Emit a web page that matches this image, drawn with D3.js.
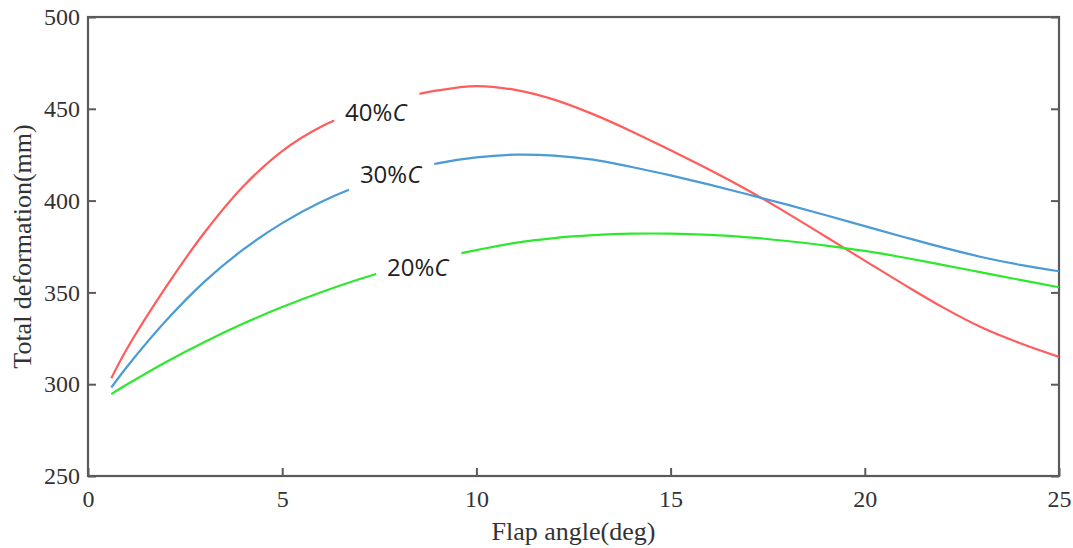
<!DOCTYPE html>
<html>
<head>
<meta charset="utf-8">
<script src="https://cdn.jsdelivr.net/npm/d3@7"></script>
<style>
  html, body { margin: 0; padding: 0; background: #fff; }
  svg { display: block; }
</style>
</head>
<body>
<svg id="chart" width="1073" height="548"></svg>
<script>
// Flap angle samples (deg)
const angles = [0.6, 1, 2, 3, 4, 5, 6, 7, 8, 9, 10, 11, 12, 13, 14, 15, 16, 17, 18, 19, 20, 21, 22, 23, 24, 25];

// Total deformation (mm) for each flap chord ratio
const def40 = [303.3, 319.2, 352.7, 382.6, 407.8, 427.0, 440.2, 449.0, 455.4, 460.0, 462.4, 460.3, 455.0, 447.1, 437.7, 427.4, 416.8, 405.5, 393.2, 380.3, 367.3, 354.4, 342.0, 331.0, 322.3, 314.9];
const def30 = [298.2, 309.4, 334.4, 355.9, 373.4, 387.7, 399.2, 408.2, 415.5, 420.3, 423.5, 425.0, 424.5, 422.3, 418.3, 413.7, 408.7, 403.3, 397.8, 392.0, 386.1, 380.2, 374.5, 369.3, 365.0, 361.5];
const def20 = [294.6, 299.8, 312.0, 323.0, 333.0, 342.0, 350.1, 357.3, 363.5, 368.7, 373.0, 377.0, 379.6, 381.2, 382.0, 382.0, 381.3, 380.0, 378.0, 375.5, 372.6, 369.0, 365.0, 360.9, 356.8, 352.8];

const seriesNames = ["40%", "30%", "20%"];
// inline label anchors (angle, deformation) for each curve
const labelAngles = [6.62, 7.0, 7.7];
const labelValues = [443.2, 409.4, 359.2];

const xTicks = [0, 5, 10, 15, 20, 25];
const yTicks = [250, 300, 350, 400, 450, 500];

const colors = ["#ff5c5c", "#4a9bd6", "#2ee82e"];

const svg = d3.select("#chart");
const x = d3.scaleLinear().domain([0, 25]).range([88, 1059]);
const y = d3.scaleLinear().domain([250, 500]).range([476, 17]);

const axisColor = "#5a5a5a";
const tickFont = "'Liberation Serif', 'Times New Roman', serif";

// Left axis: inward ticks, labels
const gL = svg.append("g").attr("transform", `translate(${x.range()[0]},0)`)
  .call(d3.axisLeft(y).tickValues(yTicks).tickSizeInner(-8).tickSizeOuter(0).tickPadding(8));
// Right axis: inward ticks only
const gR = svg.append("g").attr("transform", `translate(${x.range()[1]},0)`)
  .call(d3.axisRight(y).tickValues(yTicks).tickSizeInner(-8).tickSizeOuter(0).tickFormat(""));
// Bottom axis: inward ticks, labels
const gB = svg.append("g").attr("transform", `translate(0,${y.range()[0]})`)
  .call(d3.axisBottom(x).tickValues(xTicks).tickSizeInner(-8).tickSizeOuter(0).tickPadding(14));

[gL, gR, gB].forEach(g => {
  g.select(".domain").remove();
  g.selectAll(".tick line").attr("stroke", axisColor).attr("stroke-width", 2);
  g.selectAll(".tick text").attr("fill", "#333").style("font-family", tickFont).style("font-size", "24px");
});

// Plot frame
svg.append("rect")
  .attr("x", x.range()[0]).attr("y", y.range()[1])
  .attr("width", x.range()[1] - x.range()[0])
  .attr("height", y.range()[0] - y.range()[1])
  .attr("fill", "none").attr("stroke", axisColor).attr("stroke-width", 2.2);

// Axis titles
svg.append("text")
  .attr("x", (x.range()[0] + x.range()[1]) / 2).attr("y", 540)
  .attr("text-anchor", "middle").attr("fill", "#333")
  .style("font-family", tickFont).style("font-size", "26px")
  .text("Flap angle(deg)");
svg.append("text")
  .attr("transform", `translate(31,${(y.range()[0] + y.range()[1]) / 2}) rotate(-90)`)
  .attr("text-anchor", "middle").attr("fill", "#333")
  .style("font-family", tickFont).style("font-size", "26px")
  .text("Total deformation(mm)");

// Curves
const line = d3.line()
  .x((d, i) => x(angles[i]))
  .y(d => y(d))
  .curve(d3.curveCatmullRom.alpha(0.5));

const allSeries = [def40, def30, def20];
allSeries.forEach((vals, k) => {
  const path = svg.append("path")
    .datum(vals)
    .attr("d", line)
    .attr("fill", "none")
    .attr("stroke", colors[k])
    .attr("stroke-width", 2.2);

  const label = svg.append("text")
    .attr("x", x(labelAngles[k])).attr("y", y(labelValues[k]))
    .attr("fill", "#222")
    .style("font-family", "'Open Sans', 'Noto Sans', sans-serif")
    .style("font-size", "24px");
  label.append("tspan").text(seriesNames[k]);
  label.append("tspan").style("font-style", "italic").text("C");

  // break the curve where the label sits
  const bb = label.node().getBBox();
  const x0 = bb.x - 11, x1 = bb.x + bb.width + 11;
  const node = path.node();
  const total = node.getTotalLength();
  const lengthAtX = (px) => {
    let lo = 0, hi = total;
    for (let it = 0; it < 40; it++) {
      const mid = (lo + hi) / 2;
      if (node.getPointAtLength(mid).x < px) lo = mid; else hi = mid;
    }
    return (lo + hi) / 2;
  };
  const l0 = lengthAtX(x0), l1 = lengthAtX(x1);
  path.attr("stroke-dasharray", `${l0} ${l1 - l0} ${total}`);
});
</script>
</body>
</html>
